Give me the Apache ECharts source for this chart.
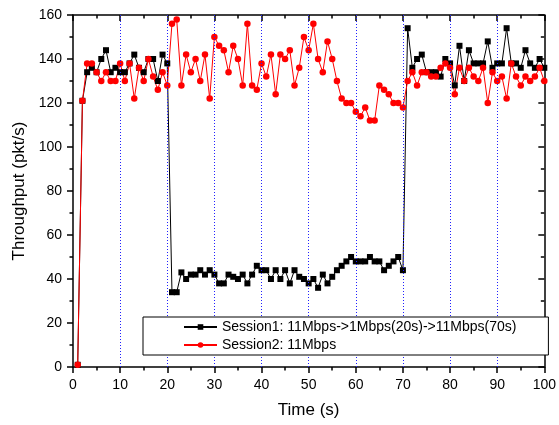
<!DOCTYPE html>
<html>
<head>
<meta charset="utf-8">
<script src="https://cdn.jsdelivr.net/npm/echarts@6/dist/echarts.min.js"></script>
<style>
html,body{margin:0;padding:0;background:#fff;}
#c{width:559px;height:425px;}
</style>
</head>
<body>
<div id="c"></div>
<script>
var timeSec = [];
for (var i = 1; i <= 100; i++) timeSec.push(i);

var session1 = [1,121,134,136,134,140,144,134,136,134,
  134,138,142,136,134,140,140,130,142,138,
  34,34,43,40,42,42,44,42,44,42,
  38,38,42,41,40,42,38,42,46,44,
  44,40,44,40,44,38,44,41,40,38,
  40,36,42,38,41,44,46,48,50,48,
  48,48,50,48,48,44,46,48,50,44,
  154,136,140,142,134,134,134,132,140,138,
  128,146,130,144,138,138,138,148,136,138,
  138,154,138,138,136,144,138,136,140,136];

var session2 = [1,121,138,138,134,130,134,130,130,138,
  130,138,122,136,130,140,132,126,134,128,
  156,158,128,142,134,140,130,142,122,150,
  146,144,134,146,140,128,156,128,126,138,
  132,142,124,142,140,144,128,136,150,144,
  156,140,134,148,140,130,122,120,120,116,
  114,118,112,112,128,126,124,120,120,118,
  130,134,128,134,134,132,132,136,138,136,
  124,136,130,136,132,130,136,120,134,130,
  132,122,138,132,128,132,130,132,136,130];

var seriesNames = ['Session1: 11Mbps->1Mbps(20s)->11Mbps(70s)', 'Session2: 11Mbps'];
var xTicks = [0,10,20,30,40,50,60,70,80,90,100];
var yTicks = [0,20,40,60,80,100,120,140,160];
var gridTimes = [10,20,30,40,50,60,70,80,90];

function pairs(xs, ys){ return xs.map(function(x, k){ return [x, ys[k]]; }); }

var FONT = '"Liberation Sans", Arial, sans-serif';
var axisLine = {show:true, onZero:false, lineStyle:{color:'#000', width:1.5}};

var chart = echarts.init(document.getElementById('c'), null, {renderer:'canvas'});
chart.setOption({
  animation:false,
  backgroundColor:'#fff',
  grid:{left:73, right:10, top:15, bottom:58, containLabel:false},
  legend:{
    show:true, orient:'vertical', left:143, top:317, align:'left', z:20,
    data:seriesNames,
    padding:[2,32,2,40], itemGap:2, itemWidth:33, itemHeight:7,
    borderColor:'#000', borderWidth:1, backgroundColor:'#fff', borderRadius:0,
    textStyle:{fontFamily:FONT, fontSize:14, color:'#000', lineHeight:16}
  },
  xAxis:[{
    type:'value', position:'bottom', min:xTicks[0], max:xTicks[xTicks.length-1], interval:10,
    name:'Time (s)', nameLocation:'middle', nameGap:35,
    nameTextStyle:{fontFamily:FONT, fontSize:17, color:'#000'},
    axisLine:axisLine,
    axisTick:{show:true, inside:false, length:6, lineStyle:{color:'#000', width:1.5}},
    minorTick:{show:true, splitNumber:2, length:3.5, lineStyle:{color:'#000', width:1.5}},
    axisLabel:{show:true, margin:11, fontFamily:FONT, fontSize:14, color:'#000'},
    splitLine:{show:false},
    minorSplitLine:{show:false}
  },{
    type:'value', position:'top', min:xTicks[0], max:xTicks[xTicks.length-1], interval:10,
    axisLine:axisLine,
    axisTick:{show:true, inside:true, length:6, lineStyle:{color:'#000', width:1.5}},
    minorTick:{show:true, splitNumber:2, length:3.5, lineStyle:{color:'#000', width:1.5}},
    axisLabel:{show:false}, splitLine:{show:false}
  }],
  yAxis:[{
    type:'value', position:'left', min:yTicks[0], max:yTicks[yTicks.length-1], interval:20,
    name:'Throughput (pkt/s)', nameLocation:'middle', nameGap:43,
    nameTextStyle:{fontFamily:FONT, fontSize:17, color:'#000'},
    axisLine:axisLine,
    axisTick:{show:true, inside:false, length:6, lineStyle:{color:'#000', width:1.5}},
    minorTick:{show:true, splitNumber:2, length:3.5, lineStyle:{color:'#000', width:1.5}},
    axisLabel:{show:true, margin:11, fontFamily:FONT, fontSize:14, color:'#000'},
    splitLine:{show:false}
  },{
    type:'value', position:'right', min:yTicks[0], max:yTicks[yTicks.length-1], interval:20,
    axisLine:axisLine,
    axisTick:{show:true, inside:true, length:6, lineStyle:{color:'#000', width:1.5}},
    minorTick:{show:true, splitNumber:2, length:3.5, lineStyle:{color:'#000', width:1.5}},
    axisLabel:{show:false}, splitLine:{show:false}
  }],
  series:[{
    name:'grid', type:'line', xAxisIndex:0, yAxisIndex:0, data:[], z:1,
    markLine:{
      silent:true, symbol:['none','none'], label:{show:false},
      lineStyle:{color:'#2020ff', type:[1,2], width:1, opacity:1},
      emphasis:{disabled:true},
      data:gridTimes.map(function(t){ return {xAxis:t}; })
    }
  },{
    name:seriesNames[0], type:'line', xAxisIndex:0, yAxisIndex:0, z:2,
    data:pairs(timeSec, session1),
    symbol:'rect', symbolSize:6, showSymbol:true,
    lineStyle:{color:'#000', width:1},
    itemStyle:{color:'#000'}
  },{
    name:seriesNames[1], type:'line', xAxisIndex:0, yAxisIndex:0, z:2,
    data:pairs(timeSec, session2),
    symbol:'circle', symbolSize:6.5, showSymbol:true,
    lineStyle:{color:'#ff0000', width:1},
    itemStyle:{color:'#ff0000'}
  }]
});
</script>
</body>
</html>
